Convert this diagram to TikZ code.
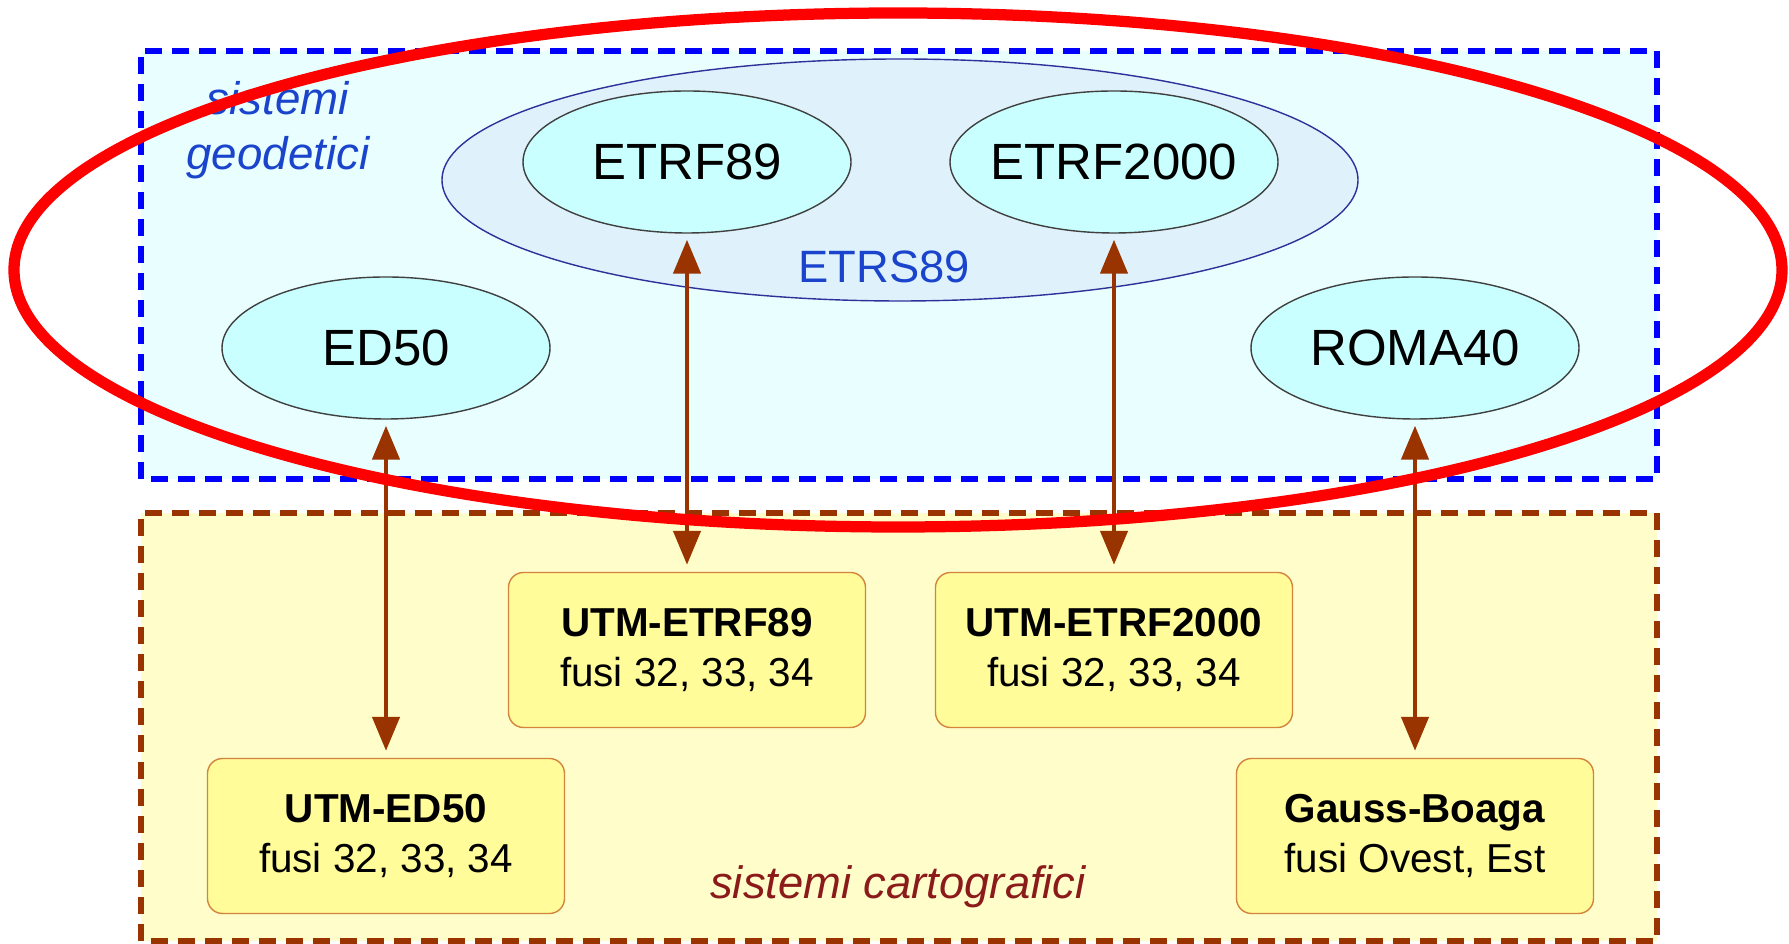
\documentclass[tikz,border=0pt]{standalone}
\usepackage{fontspec}
\setmainfont{Liberation Sans}
\usetikzlibrary{shapes, arrows.meta, positioning}
\definecolor{geoblue}{HTML}{0000FF}
\definecolor{geofill}{HTML}{E9FEFE}
\definecolor{geotext}{HTML}{1A44CC}
\definecolor{cartbrown}{HTML}{993300}
\definecolor{cartfill}{HTML}{FFFDC9}
\definecolor{carttext}{HTML}{8B1A1A}
\definecolor{ellfill}{HTML}{C9FFFF}
\definecolor{ellline}{HTML}{404040}
\definecolor{etrsfill}{HTML}{DFF2FC}
\definecolor{etrsline}{HTML}{30309A}
\definecolor{boxfill}{HTML}{FFFC99}
\definecolor{boxline}{HTML}{D4843C}
\newcommand{\dname}[1]{\makebox[0pt]{#1}}
\tikzstyle{datum} = [ellipse, draw=ellline, fill=ellfill, minimum width=3.28cm, minimum height=1.42cm, font=\fontsize{14.5}{17}\selectfont]
\tikzstyle{proj} = [rectangle, rounded corners=0.15cm, draw=boxline, fill=boxfill, minimum width=3.57cm, minimum height=1.55cm, align=center, font=\fontsize{11.5}{14}\selectfont]
\tikzstyle{frame} = [line width=1.5pt, dash pattern=on 0.17cm off 0.10cm]
\tikzstyle{link} = [{Triangle[length=3.4mm,width=2.7mm]}-{Triangle[length=3.4mm,width=2.7mm]}, line width=1.3pt, draw=cartbrown, color=cartbrown, shorten <=0.06cm, shorten >=0.07cm]

\begin{document}
\begin{tikzpicture}
  \fill[white] (0,0) rectangle (17.89,9.44);
  \useasboundingbox (0,0) rectangle (17.89,9.44);

  % riquadri
  \draw[frame, geoblue, fill=geofill] (1.41,4.65) rectangle (16.57,8.93);
  \draw[frame, cartbrown, fill=cartfill] (1.41,0.03) rectangle (16.57,4.31);

  % sistemi geodetici
  \node[ellipse, draw=etrsline, fill=etrsfill, minimum width=9.16cm, minimum height=2.42cm] (ETRS) at (9.00,7.64) {};
  \node[datum] (ETRF89) at (6.87,7.82) {\dname{ETRF89}};
  \node[datum] (ETRF2000) at (11.14,7.82) {\dname{ETRF2000}};
  \node[datum] (ED50) at (3.86,5.96) {\dname{ED50}};
  \node[datum] (ROMA40) at (14.15,5.96) {\dname{ROMA40}};
  \node[text=geotext, font=\fontsize{12.9}{15}\selectfont] (ETRS_lab) at (8.84,6.77) {ETRS89};
  \node[text=geotext, align=center, font=\fontsize{13}{15.5}\itshape] (geo_lab) at (2.78,8.14) {sistemi\\geodetici};

  % sistemi cartografici
  \node[proj] (UTM_ETRF89) at (6.87,2.94) {\textbf{UTM-ETRF89}\\fusi 32, 33, 34};
  \node[proj] (UTM_ETRF2000) at (11.14,2.94) {\textbf{UTM-ETRF2000}\\fusi 32, 33, 34};
  \node[proj] (UTM_ED50) at (3.86,1.08) {\textbf{UTM-ED50}\\fusi 32, 33, 34};
  \node[proj] (GB) at (14.15,1.08) {\textbf{Gauss-Boaga}\\fusi Ovest, Est};
  \node[text=carttext, font=\fontsize{12.9}{15}\itshape] (cart_lab) at (8.98,0.57) {sistemi cartografici};

  % collegamenti
  \draw[link] (ED50) -- (UTM_ED50);
  \draw[link] (ETRF89) -- (UTM_ETRF89);
  \draw[link] (ETRF2000) -- (UTM_ETRF2000);
  \draw[link] (ROMA40) -- (GB);

  % evidenziazione
  \draw[red, line width=3.2pt] (8.98,6.74) ellipse [x radius=8.84, y radius=2.57];
\end{tikzpicture}
\end{document}
